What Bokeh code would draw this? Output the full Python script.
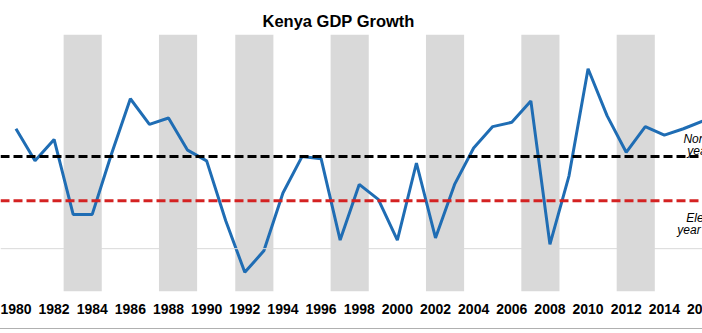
from bokeh.plotting import figure
from bokeh.models import Range1d, FixedTicker, Span, ColumnDataSource
from bokeh.core.properties import value
from bokeh.embed import file_html
from bokeh.resources import INLINE

# ---- data ----
years = list(range(1980, 2017))
gdp_growth = [5.6, 4.1, 5.1, 1.6, 1.6, 4.4, 7.0, 5.8, 6.1, 4.6, 4.1, 1.3, -1.1, -0.1,
              2.6, 4.3, 4.2, 0.4, 3.0, 2.3, 0.4, 4.0, 0.5, 3.0, 4.7, 5.7, 5.9, 6.9,
              0.2, 3.4, 8.4, 6.2, 4.5, 5.7, 5.3, 5.6, 5.95]
shade_start = [1983, 1988, 1992, 1997, 2002, 2007, 2012]   # shaded two-year periods
non_election_avg = 4.3
election_avg = 2.24
tick_years = list(range(1980, 2017, 2))
title_text = "Kenya GDP Growth"

FONT = "Liberation Sans"

p = figure(width=702, height=329, output_backend="svg", toolbar_location=None,
           x_range=Range1d(1979.19, 2016.0), y_range=Range1d(-2, 10),
           y_axis_location=None, min_border_left=0, min_border_right=0,
           min_border_top=34, min_border_bottom=38)
p.styles = {"border-bottom": "1px solid #b0b0b0"}
p.outline_line_color = None
p.xgrid.visible = False
p.ygrid.visible = False
p.background_fill_color = "white"
p.border_fill_color = "white"

# title
p.title.text = title_text
p.title.text_font = FONT
p.title.text_font_size = "16.5px"
p.title.text_font_style = "bold"
p.title.text_color = "black"
p.title.align = "left"
p.title.offset = 262

# zero line
p.add_layout(Span(location=0, dimension="width", line_color="#d9d9d9", line_width=1))

# shaded periods
src_sh = ColumnDataSource(dict(x=[s + 0.5 for s in shade_start]))
p.vbar(x="x", width=2, bottom=-2, top=10, source=src_sh,
       fill_color="#d9d9d9", line_color=None)

# averages
p.add_layout(Span(location=non_election_avg, dimension="width", line_color="black",
                  line_width=3, line_dash="9 4"))
p.add_layout(Span(location=election_avg, dimension="width", line_color="#d42222",
                  line_width=3, line_dash="9 4"))

# growth line
p.line(years, gdp_growth, line_color="#1f6db4", line_width=3)

# right-side labels (clipped by the frame edge, as in the reference)
lab_src = ColumnDataSource(dict(
    x=[2015.0, 2015.2, 2015.15, 2014.68],
    y=[5.12, 4.58, 1.42, 0.86],
    t=["Non-election", "years", "Election", "year average"]))
p.text(x="x", y="y", text="t", source=lab_src, text_font=value(FONT),
       text_font_size="12px", text_font_style="italic", text_color="black",
       text_align="left", text_baseline="alphabetic")

# x axis
ax = p.xaxis[0]
ax.ticker = FixedTicker(ticks=tick_years)
ax.major_label_overrides = {2016: "20"}   # only the start of the last label shows
ax.axis_line_color = None
ax.major_tick_line_color = None
ax.minor_tick_line_color = None
ax.major_label_text_font = FONT
ax.major_label_text_font_size = "14px"
ax.major_label_text_font_style = "bold"
ax.major_label_text_color = "black"
ax.major_label_standoff = 6

open("out.html", "w").write(file_html(p, INLINE))
